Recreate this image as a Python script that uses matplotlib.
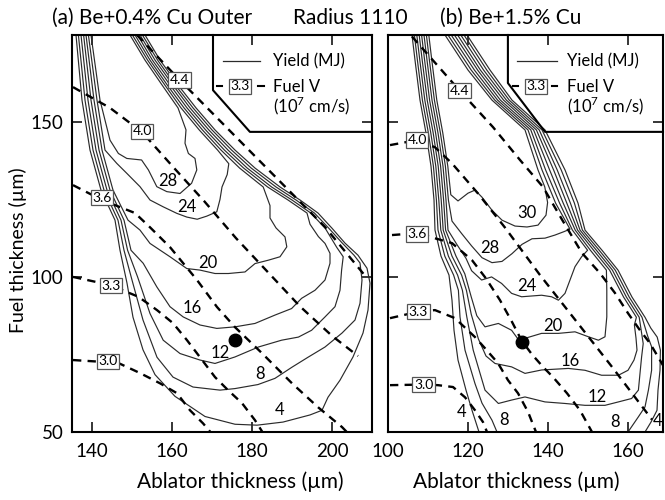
import numpy as np
import matplotlib.pyplot as plt

plt.rcParams['font.family'] = ['Lato', 'DejaVu Sans']
plt.rcParams['mathtext.fontset'] = 'custom'
plt.rcParams['mathtext.rm'] = 'Lato'
plt.rcParams['lines.scale_dashes'] = False

# ---------------- (a) Be+0.4% Cu Outer ----------------
# yield contours (MJ): (ablator um, fuel um)
a4 = [(136, 178), (137.5, 157), (139.5, 140.9), (142.25, 128), (145.75, 118.3), (147, 108.6), (148.75, 98),
      (150.25, 87), (152.75, 76.5), (155.75, 68.5), (160.75, 61.5), (168.25, 55), (175.75, 52.5), (181.25, 52.2),
      (187.75, 53.2), (194.5, 55.5), (197.5, 57), (199, 61.2), (202, 66.7), (205.25, 74.2), (207.75, 81.9),
      (209, 89.3), (209.5, 98), (208.75, 102.8), (206.5, 107), (203.25, 110.9), (200, 115.7), (196.5, 120.6),
      (192, 124.8), (187, 129), (180.75, 135.1), (175.75, 140.9), (170.75, 147.4), (166, 154.5), (161.5, 161.9),
      (157, 169.9), (153.25, 178)]
a8 = [(136.6, 178), (138.25, 157), (140.25, 140.9), (143, 128), (146.5, 118.3), (148, 108.6), (150, 99),
      (152.75, 86.1), (156.25, 74.1), (160.25, 67.7), (165.25, 64.5), (172, 63.5), (175.75, 64), (181.5, 65.3),
      (185.75, 67.3), (190, 70.9), (194, 74.1), (198.25, 77.4), (202.5, 81.9), (205.75, 86.1), (207, 91.5),
      (207.5, 99), (207, 104.5), (205.5, 107), (202.5, 111), (199.2, 115.7), (195.6, 120.6), (191, 124.8),
      (186, 129), (179.8, 135.1), (174.9, 140.9), (170, 147.4), (165.25, 154.5), (160.8, 161.9), (156.4, 169.9),
      (152.6, 178)]
a12 = [(137.25, 178), (139, 157), (141, 140.9), (143.75, 128), (147.25, 118.3), (148.9, 108.6), (151.4, 100),
       (154.5, 88.2), (157.8, 79.6), (162, 75.3), (167, 73.2), (170.75, 72.1), (175.75, 74.2), (181.6, 77.4),
       (187.4, 79.6), (191.6, 80.6), (194.9, 82.8), (198.25, 87.1), (200.75, 90.4), (202, 95.7), (202.4, 102.2),
       (202.8, 106.5), (201.2, 109.5), (198.3, 115.7), (194.7, 120.6), (190, 124.8), (184.9, 129), (178.8, 135.1),
       (174, 140.9), (169.2, 147.4), (164.5, 154.5), (160.2, 161.9), (155.75, 169.9), (152, 178)]
a16 = [(137.9, 178), (139.75, 157), (141.75, 140.9), (144.5, 128), (148, 118.3), (149.75, 108.6), (152.8, 104.4),
       (156.2, 96.8), (159.5, 90.4), (162.8, 87.1), (167, 84.5), (171.2, 83.4), (175.75, 83.9), (180.75, 85),
       (185.75, 87.7), (189.9, 89.8), (192.4, 93.1), (195.75, 95.7), (198.25, 99), (199.5, 104.4), (199.5, 107.6),
       (198.25, 110.8), (196.6, 113), (194.5, 117), (193.75, 120.6), (189, 124.8), (183.9, 129), (177.9, 135.1),
       (173.1, 140.9), (168.4, 147.4), (163.75, 154.5), (159.5, 161.9), (155.1, 169.9), (151.4, 178)]
a20 = [(138.5, 178), (140.5, 157), (142.5, 140.9), (145.25, 128), (149, 118.3), (152, 115.1), (154.5, 110.8),
       (159.5, 106.5), (163.7, 102.7), (167, 102.2), (170.75, 101.1), (174.1, 101.1), (178.25, 101.6),
       (180.75, 104.3), (184.1, 105.4), (187, 106.5), (188.7, 109.7), (188.25, 112.9), (186, 115.8), (184.5, 119),
       (184.5, 123), (182.8, 129), (176.9, 135.1), (172.25, 140.9), (167.6, 147.4), (163, 154.5), (158.8, 161.9),
       (154.5, 169.9), (150.75, 178)]
a24 = [(139.1, 178), (141.25, 157), (143.25, 140.9), (146.2, 136.6), (148.7, 133.4), (152, 129.1), (154.5, 124.8),
       (157.8, 122.6), (161.2, 120.5), (163.7, 119.3), (166.3, 118.6), (168.7, 119.6), (171.2, 121), (172, 125),
       (172.5, 129), (173.8, 133), (174.2, 136.5), (171.4, 140.9), (166.8, 147.4), (162.25, 154.5), (158.2, 161.9),
       (153.9, 169.9), (150.1, 178)]
a28 = [(139.75, 178), (142, 157), (144.5, 144.1), (146.6, 139.8), (148.7, 138.2), (152.4, 137.7), (154.1, 134.5),
       (156.2, 129.1), (158.7, 127.5), (162, 126.9), (164.9, 130.2), (166.2, 134.5), (165.75, 138.2), (164.1, 139.8),
       (163.25, 143.1), (163.5, 147.4), (161.5, 154.5), (157.5, 161.9), (153.25, 169.9), (149.5, 178)]
a_yield_text = ["4", "8", "12", "16", "20", "24", "28"]
a_yield_pos = [(187, 57.2), (182, 68.8), (172, 75.6), (165, 89.9), (169, 104.5), (163.7, 122.6), (159, 131)]

# fuel velocity lines (10^7 cm/s)
a_v44 = [(151.25, 178), (161.9, 163.5), (198.25, 116.1), (208.5, 100)]
a_v40 = [(135.25, 161.2), (144.5, 154.5), (152.5, 146.7), (160.25, 135.5), (168, 124.5), (176, 112.5),
         (184, 101.5), (192, 90.5), (200, 81), (206.5, 74.5)]
a_v36 = [(135.25, 129.6), (142.5, 124.8), (150.75, 120.6), (154.5, 116), (159.5, 109.6), (166.25, 99),
         (171.25, 90.3), (175.75, 83.8), (182.5, 75.4), (190, 65.7), (196.5, 58), (202.5, 51.6), (203.7, 50)]
a_v33 = [(135.25, 100), (144.5, 97.4), (151.6, 93.6), (156.25, 89.3), (160.25, 85.1), (163.75, 79.6), (167, 74.1),
         (170.75, 67.7), (174, 63.5), (177.5, 59.3), (180.75, 53.8), (182.6, 50)]
a_v30 = [(135.25, 73.2), (144, 72.5), (147, 72), (152, 69), (157, 65.7), (161.25, 62.5), (164.5, 57),
         (167.75, 52.8), (169.6, 50)]
a_v_text = ["4.4", "4.0", "3.6", "3.3", "3.0"]
a_v_pos = [(161.9, 163.5), (152.5, 146.9), (142.5, 125.6), (144.75, 97.2), (144, 72.8)]
a_dot = (175.75, 79.6)

# ---------------- (b) Be+1.5% Cu ----------------
b4 = [(106, 178), (106.75, 169.9), (108, 157), (109.5, 146.4), (110.75, 135.7), (111.5, 124.8), (111.75, 115.1),
      (113.25, 106.7), (115.25, 100.6), (116, 92.5), (116.5, 82.8), (117.5, 73.2), (119.5, 63.5), (121, 57),
      (122.75, 50)]
b4r = [(164.25, 50), (165.75, 53.2), (167.25, 57), (167.5, 63.5), (168, 69.9), (168.1, 76.4), (167.3, 80.6),
       (165.7, 83.5), (164.25, 87), (161, 93.5), (157.5, 102.2), (153.5, 108.6), (149.25, 115.1), (147.5, 123.8),
       (144.25, 134.5), (139.25, 147.4), (131, 157), (125.5, 166.7), (119.75, 178)]
b8 = [(106.6, 178), (107.35, 169.9), (108.6, 157), (110.1, 146.4), (111.35, 135.7), (112.1, 124.8), (112.5, 115.1),
      (114.2, 106.7), (116.4, 100.6), (117.6, 95.7), (118, 87.1), (119.25, 76.4), (121.75, 65.6), (123.5, 59.3),
      (126, 53.8), (127.25, 50)]
b8r = [(160, 50), (160.9, 51.7), (162.6, 54.9), (164.25, 58.1), (165.1, 63.5), (165.9, 69.9), (165.9, 77.5),
       (164.9, 81), (163.5, 87), (160.3, 93.5), (156.8, 102.2), (152.8, 108.6), (148.6, 115.1), (146.6, 123.8),
       (143.3, 134.5), (138.5, 147.4), (130.3, 157), (124.7, 166.7), (119, 178)]
b12 = [(107.2, 178), (107.95, 169.9), (109.2, 157), (110.7, 146.4), (111.95, 135.7), (112.7, 124.8), (113.2, 115.1),
       (115.1, 106.7), (117.4, 100.6), (118.6, 95.7), (119.7, 87.1), (121.3, 76.4), (124.25, 63.5), (127.6, 59.2),
       (130.9, 60.3), (134.25, 61.3), (139.25, 59.7), (144.25, 59.2), (149.25, 58.6), (154.25, 58.6), (157.6, 59.7),
       (160.9, 60.8), (162.6, 63.5), (163, 68.9), (163.4, 74.2), (163.8, 78.5), (162.8, 87), (159.6, 93.5),
       (156.1, 102.2), (152.1, 108.6), (148, 115.1), (145.6, 123.8), (142.3, 134.5), (137.8, 147.4), (129.6, 157),
       (123.9, 166.7), (118.2, 178)]
b16 = [(107.8, 178), (108.55, 169.9), (109.8, 157), (111.3, 146.4), (112.55, 135.7), (113.3, 124.8), (113.8, 115.1),
       (116, 106.7), (118.4, 100.6), (119.6, 95.7), (120.8, 88), (122.6, 80), (124.5, 74.5), (126.75, 72.1),
       (130.9, 71), (134.25, 68.9), (138.4, 70), (145.1, 70.5), (149.25, 69.9), (153.4, 68.3), (157.6, 68.3),
       (160, 69.9), (161.5, 73.2), (162.25, 76.4), (162, 80.3), (161.6, 84.5), (162.1, 87), (158.9, 93.5),
       (155.4, 102.2), (151.4, 108.6), (147.4, 115.1), (144.7, 123.8), (141.4, 134.5), (137.1, 147.4), (128.9, 157),
       (123.1, 166.7), (117.4, 178)]
b20 = [(108.4, 178), (109.15, 169.9), (110.4, 157), (111.9, 146.4), (113.15, 135.7), (113.9, 124.8), (114.4, 115.1),
       (117, 106.7), (119.2, 101), (120.8, 93.6), (122.2, 87.5), (124.25, 83.9), (127.6, 85), (130.9, 82.8),
       (132.6, 79.8), (134.5, 80.3), (138.4, 81.8), (142.6, 81.8), (146.75, 82.3), (150.1, 80.7), (152.6, 79.6),
       (154.25, 80.7), (154.7, 87.1), (154.7, 95.7), (154.6, 102.2), (150.6, 108.6), (146.8, 115.1), (143.8, 123.8),
       (140.4, 134.5), (136.4, 147.4), (128.1, 157), (122.4, 166.7), (116.6, 178)]
b24 = [(109, 178), (109.75, 169.9), (111, 157), (112.5, 146.4), (113.75, 135.7), (114.5, 124.8), (115, 115.1),
       (117.2, 110.5), (119.5, 106), (120.9, 102), (123.4, 99), (125.9, 100), (128.4, 97.9), (130.9, 94.7),
       (133.4, 93.6), (138.4, 94.1), (140.9, 93.6), (142.6, 92.5), (144.25, 94.7), (145.5, 99), (146.75, 103.3),
       (148.4, 106.5), (149.9, 108.6), (146.1, 115.1), (142.9, 123.8), (139.4, 134.5), (135.7, 147.4), (127.4, 157),
       (121.6, 166.7), (115.8, 178)]
b28 = [(109.6, 178), (110.35, 169.9), (111.6, 157), (113.1, 146.4), (114.35, 135.7), (115.1, 124.8), (116, 118),
       (118.4, 114), (120.9, 110), (123.5, 106.2), (126, 104.6), (128.5, 105), (131, 107.5), (133.5, 110.5),
       (136, 112.3), (139.25, 112.5), (141.75, 113.5), (144, 114.6), (145.5, 115.4), (141.9, 123.8), (138.5, 134.5),
       (135, 147.4), (126.7, 157), (120.8, 166.7), (115, 178)]
b30 = [(110.2, 178), (110.95, 169.9), (112.2, 157), (113.7, 146.4), (114.95, 135.7), (115.7, 126.5), (117.5, 124.5),
       (120, 127), (121.75, 128), (123.5, 125.7), (126, 121.5), (128.5, 118.3), (131.75, 116.4), (134.75, 116.1),
       (137.5, 116.7), (139.5, 119.9), (139.9, 124), (139.2, 129), (137.5, 134.5), (134.25, 147.4), (126, 157),
       (120, 166.7), (114.25, 178)]
b_yield_text = ["4", "8", "12", "16", "20", "24", "28", "30", "8", "4"]
b_yield_pos = [(118.5, 56.4), (128.9, 53.8), (152.2, 61.3), (145.5, 72.8), (141.3, 84.2), (134.7, 97),
               (125.5, 109.2), (134.75, 120.6), (156.75, 53.2), (167.4, 53.6)]

b_v44 = [(106, 177.5), (117.75, 160.3), (126.25, 148.3), (133, 137.7), (138.75, 129), (143.5, 118.5),
         (148.5, 107.7), (153, 101.2), (156.75, 94.8), (160, 88.3), (163, 82.8), (165.5, 78.6), (168.75, 71.5)]
b_v40 = [(100.5, 142.5), (107.25, 144.1), (111.75, 141.8), (116, 136.6), (122.5, 126.9), (129.25, 115.9),
         (138, 100.6), (147.5, 85), (156, 71), (166, 54)]
b_v36 = [(101, 113.5), (107.25, 114.1), (116, 110.9), (121, 105.4), (124.5, 99.5), (128, 92.5), (131, 85.5),
         (133.4, 79.5), (136, 75), (138.75, 71), (141.25, 67.7), (144.75, 62.5), (148, 57), (151, 50)]
b_v33 = [(100.5, 86.7), (107.6, 88.8), (111.75, 89.3), (116.75, 86.7), (121.75, 80.6), (124.25, 77),
         (127.5, 72.2), (130, 66.7), (132.5, 62.5), (135, 56.5), (137, 50)]
b_v30 = [(100.5, 65.1), (108.9, 65.3), (112.5, 65.1), (116.25, 64.5), (119.25, 61.2), (121.75, 57),
         (123.75, 53.2), (124.75, 50)]
b_v_text = ["4.4", "4.0", "3.6", "3.3", "3.0"]
b_v_pos = [(117.9, 160.1), (107.25, 144.1), (107.25, 113.8), (107.6, 88.8), (108.9, 65.3)]
b_dot = (133.4, 79)

CLINE = dict(color='#2b2b2b', lw=0.85, zorder=2)
DASH = dict(color='black', lw=1.7, dashes=(6, 4.5), zorder=3)
BOX = dict(boxstyle='square,pad=0.12', fc='white', ec='#555555', lw=0.9)


def draw(ax, pts, **kw):
    p = np.array(pts)
    ax.plot(p[:, 0], p[:, 1], **kw)


def legend(ax, poly, line_x, text_x, box_x, dash1, dash2):
    p = np.array(poly)
    ax.plot(p[:, 0], p[:, 1], color='black', lw=1.5, transform=ax.transAxes, zorder=4, clip_on=False)
    ax.plot(line_x, [0.934, 0.934], color='#2b2b2b', lw=0.9, transform=ax.transAxes, zorder=4)
    ax.text(text_x, 0.921, "Yield (MJ)", transform=ax.transAxes, ha='left', va='baseline', fontsize=12)
    ax.plot(dash1, [0.871, 0.871], color='black', lw=1.5, transform=ax.transAxes, zorder=4)
    ax.plot(dash2, [0.871, 0.871], color='black', lw=1.5, transform=ax.transAxes, zorder=4)
    ax.text(box_x, 0.871, "3.3", transform=ax.transAxes, ha='center', va='center', fontsize=10, bbox=BOX, zorder=5)
    ax.text(text_x, 0.857, "Fuel V", transform=ax.transAxes, ha='left', va='baseline', fontsize=12)
    ax.text(text_x, 0.805, r"(10$^{7}$ cm/s)", transform=ax.transAxes, ha='left', va='baseline', fontsize=12)


fig = plt.figure(figsize=(6.65, 5.0), dpi=100)
axA = fig.add_axes([72 / 665, 68 / 500, 300 / 665, 397 / 500])
axB = fig.add_axes([388 / 665, 68 / 500, 275 / 665, 397 / 500])

for c in [a4, a8, a12, a16, a20, a24, a28]:
    draw(axA, c, **CLINE)
for c in [b4, b4r, b8, b8r, b12, b16, b20, b24, b28, b30]:
    draw(axB, c, **CLINE)
for v in [a_v44, a_v40, a_v36, a_v33, a_v30]:
    draw(axA, v, **DASH)
for v in [b_v44, b_v40, b_v36, b_v33, b_v30]:
    draw(axB, v, **DASH)

for ax, txt, pos in [(axA, a_yield_text, a_yield_pos), (axB, b_yield_text, b_yield_pos)]:
    for t, (x, y) in zip(txt, pos):
        ax.text(x, y, t, ha='center', va='center', fontsize=12, zorder=4)
for ax, txt, pos in [(axA, a_v_text, a_v_pos), (axB, b_v_text, b_v_pos)]:
    for t, (x, y) in zip(txt, pos):
        ax.text(x, y, t, ha='center', va='center', fontsize=10, bbox=BOX, zorder=5)

axA.plot(*a_dot, 'o', color='black', ms=9, zorder=6)
axB.plot(*b_dot, 'o', color='black', ms=9, zorder=6)

legend(axA, [(0.47, 1), (0.47, 0.861), (0.593, 0.756), (1, 0.756)],
       [0.503, 0.627], 0.67, 0.56, [0.483, 0.50], [0.62, 0.64])
legend(axB, [(0.436, 1), (0.436, 0.879), (0.571, 0.756), (1, 0.756)],
       [0.469, 0.615], 0.651, 0.538, [0.455, 0.473], [0.596, 0.615])

axA.set_xlim(135, 210)
axB.set_xlim(100, 168.75)
axA.set_xticks([140, 160, 180, 200])
axB.set_xticks([100, 120, 140, 160])
for ax in (axA, axB):
    ax.set_ylim(50, 178)
    ax.set_yticks([50, 100, 150])
    ax.tick_params(direction='in', top=True, right=True, length=7, width=1.1, labelsize=13.5)
    ax.tick_params(axis='x', pad=8)
    ax.tick_params(axis='y', pad=6)
    for s in ax.spines.values():
        s.set_linewidth(1.5)
axB.tick_params(labelleft=False)

fig.text(52 / 665, 1 - 18 / 500, "(a) Be+0.4% Cu Outer", ha='left', va='center', fontsize=15)
fig.text(293 / 665, 1 - 18 / 500, "Radius 1110", ha='left', va='center', fontsize=15)
fig.text(440 / 665, 1 - 18 / 500, "(b) Be+1.5% Cu", ha='left', va='center', fontsize=15)
fig.text(240 / 665, 1 - 482 / 500, "Ablator thickness (µm)", ha='center', va='center', fontsize=15)
fig.text(516 / 665, 1 - 482 / 500, "Ablator thickness (µm)", ha='center', va='center', fontsize=15)
fig.text(18 / 665, 1 - 250 / 500, "Fuel thickness (µm)", ha='center', va='center', rotation=90, fontsize=14)

fig.savefig("out.png", dpi=100)
